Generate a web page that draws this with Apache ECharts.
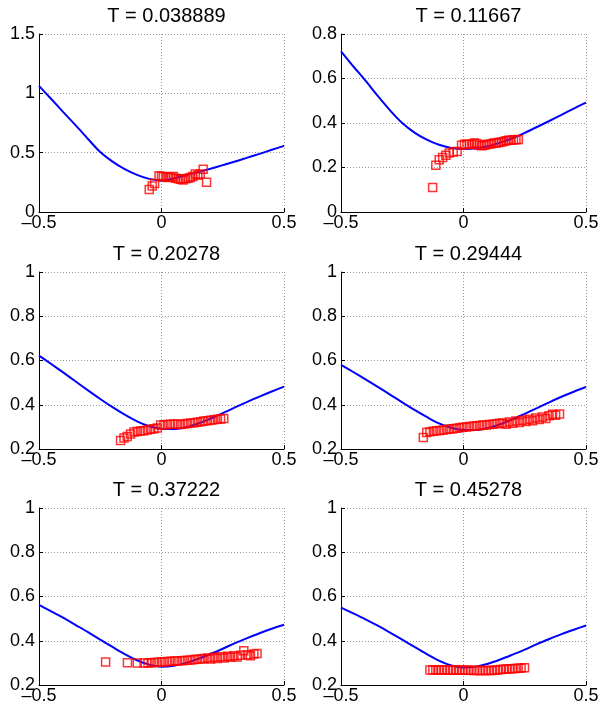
<!DOCTYPE html>
<html>
<head>
<meta charset="utf-8">
<script src="https://cdn.jsdelivr.net/npm/echarts@6/dist/echarts.min.js"></script>
<style>
html,body{margin:0;padding:0;background:#fff;}
#chart{width:602px;height:713px;}
</style>
</head>
<body>
<div id="chart"></div>
<script>
// ---- data ----
const titles = ['T = 0.038889','T = 0.11667','T = 0.20278','T = 0.29444','T = 0.37222','T = 0.45278'];
const xTicks = [-0.5, 0, 0.5];
const yMin = [0, 0, 0.2, 0.2, 0.2, 0.2];
const yMax = [1.5, 0.8, 1, 1, 1, 1];
const yStep = [0.5, 0.2, 0.2, 0.2, 0.2, 0.2];

const lineX = [-0.5,-0.45,-0.4,-0.35,-0.3,-0.25,-0.2,-0.15,-0.1,-0.05,0,0.05,0.1,0.15,0.2,0.25,0.3,0.35,0.4,0.45,0.5];
const lineY1 = [1.063,0.952,0.84,0.73,0.615,0.505,0.425,0.362,0.313,0.279,0.264,0.283,0.31,0.337,0.365,0.395,0.425,0.458,0.49,0.524,0.557];
const lineY2 = [0.722,0.655,0.59,0.522,0.457,0.40,0.357,0.325,0.302,0.288,0.283,0.286,0.296,0.312,0.332,0.356,0.382,0.409,0.437,0.465,0.492];
const lineY3 = [0.622,0.584,0.545,0.505,0.465,0.426,0.389,0.355,0.325,0.303,0.292,0.29,0.298,0.315,0.337,0.362,0.388,0.413,0.437,0.46,0.482];
const lineY4 = [0.58,0.548,0.515,0.481,0.446,0.411,0.377,0.345,0.316,0.296,0.286,0.286,0.295,0.312,0.334,0.359,0.385,0.411,0.436,0.459,0.48];
const lineY5 = [0.562,0.533,0.503,0.471,0.439,0.405,0.372,0.34,0.312,0.292,0.283,0.287,0.30,0.318,0.34,0.364,0.389,0.412,0.434,0.454,0.472];
const lineY6 = [0.55,0.524,0.497,0.468,0.437,0.405,0.372,0.34,0.31,0.288,0.279,0.283,0.296,0.315,0.337,0.36,0.385,0.408,0.43,0.45,0.469];

const ptsX1 = [-0.050,-0.038,-0.028,-0.010,0.000,0.008,0.018,0.028,0.038,0.048,0.058,0.068,0.078,0.088,0.098,0.108,0.118,0.128,0.138,0.148,0.158,0.170,0.184];
const ptsY1 = [0.19,0.22,0.24,0.305,0.30,0.30,0.295,0.29,0.295,0.30,0.285,0.28,0.275,0.27,0.28,0.285,0.29,0.30,0.32,0.31,0.32,0.36,0.25];

const ptsX2 = [-0.126,-0.113,-0.099,-0.085,-0.072,-0.058,-0.042,-0.026,-0.008,0.004,0.014,0.024,0.034,0.044,0.054,0.064,0.074,0.084,0.094,0.104,0.114,0.124,0.134,0.144,0.154,0.164,0.174,0.184,0.194,0.204,0.214,0.224];
const ptsY2 = [0.11,0.21,0.235,0.245,0.255,0.265,0.27,0.272,0.30,0.305,0.305,0.303,0.305,0.31,0.308,0.30,0.298,0.30,0.303,0.305,0.307,0.31,0.31,0.312,0.315,0.317,0.32,0.322,0.323,0.325,0.325,0.326];

const ptsX3 = [-0.167,-0.153,-0.140,-0.126,-0.112,-0.099,-0.085,-0.072,-0.058,-0.044,-0.031,-0.017,-0.003,0.010,0.024,0.037,0.051,0.065,0.078,0.092,0.105,0.119,0.133,0.146,0.160,0.173,0.187,0.201,0.214,0.228,0.241,0.254];
const ptsY3 = [0.238,0.25,0.257,0.268,0.277,0.279,0.281,0.283,0.286,0.289,0.292,0.295,0.309,0.31,0.311,0.312,0.313,0.312,0.311,0.313,0.315,0.317,0.319,0.321,0.323,0.326,0.328,0.33,0.332,0.334,0.336,0.338];

const ptsX4 = [-0.164,-0.150,-0.137,-0.123,-0.110,-0.096,-0.083,-0.069,-0.056,-0.042,-0.029,-0.015,-0.002,0.012,0.025,0.039,0.052,0.066,0.079,0.093,0.106,0.120,0.133,0.147,0.160,0.174,0.187,0.201,0.214,0.228,0.241,0.255,0.268,0.282,0.295,0.309,0.322,0.336,0.349,0.363,0.376,0.392];
const ptsY4 = [0.252,0.275,0.278,0.28,0.282,0.284,0.286,0.288,0.29,0.292,0.294,0.296,0.298,0.30,0.302,0.303,0.305,0.306,0.308,0.309,0.311,0.312,0.314,0.316,0.318,0.312,0.322,0.316,0.326,0.32,0.33,0.324,0.335,0.328,0.34,0.333,0.345,0.338,0.35,0.357,0.352,0.358];

const ptsX5 = [-0.228,-0.139,-0.099,-0.071,-0.055,-0.042,-0.028,-0.015,-0.001,0.012,0.026,0.039,0.053,0.066,0.080,0.093,0.107,0.120,0.134,0.147,0.161,0.174,0.188,0.201,0.215,0.228,0.242,0.255,0.269,0.282,0.296,0.309,0.323,0.336,0.350,0.363,0.377,0.390];
const ptsY5 = [0.304,0.301,0.299,0.299,0.300,0.301,0.302,0.303,0.304,0.305,0.306,0.307,0.308,0.309,0.31,0.311,0.312,0.313,0.315,0.316,0.318,0.32,0.322,0.318,0.325,0.32,0.328,0.322,0.33,0.325,0.332,0.327,0.335,0.355,0.337,0.332,0.34,0.342];

const ptsX6 = [-0.137,-0.125,-0.113,-0.101,-0.089,-0.077,-0.065,-0.053,-0.041,-0.029,-0.017,-0.005,0.007,0.019,0.031,0.043,0.055,0.067,0.079,0.091,0.103,0.115,0.127,0.139,0.151,0.163,0.175,0.187,0.199,0.211,0.223,0.235,0.249];
const ptsY6 = [0.268,0.268,0.268,0.268,0.268,0.268,0.268,0.268,0.268,0.268,0.268,0.267,0.267,0.267,0.267,0.266,0.266,0.266,0.265,0.265,0.265,0.266,0.267,0.268,0.27,0.271,0.272,0.273,0.274,0.275,0.276,0.277,0.278];

const lineYs = [lineY1,lineY2,lineY3,lineY4,lineY5,lineY6];
const ptsXs = [ptsX1,ptsX2,ptsX3,ptsX4,ptsX5,ptsX6];
const ptsYs = [ptsY1,ptsY2,ptsY3,ptsY4,ptsY5,ptsY6];

// ---- layout ----
const FONT = 'Liberation Sans, Arial, Helvetica, sans-serif';
const lefts = [39, 341];
const tops = [34, 272, 508];
const heights = [178, 177, 177];
const W = 245;
const titleTops = [1, 239, 475];

const grids = [], xAxes = [], yAxes = [], series = [], titleArr = [];
const fmt = v => { const r = Math.round(v*100)/100; return String(r).replace('-', '\u2013'); };
for (let i = 0; i < 6; i++) {
  const col = i % 2, row = Math.floor(i / 2);
  grids.push({left: lefts[col], top: tops[row], width: W, height: heights[row], containLabel: false});
  titleArr.push({text: titles[i], left: lefts[col] + W/2, top: titleTops[row], textAlign: 'center',
    textStyle: {fontFamily: FONT, fontSize: 20, fontWeight: 'normal', color: '#000'}});
  xAxes.push({type: 'value', gridIndex: i, min: -0.5, max: 0.5, interval: 0.5,
    axisLine: {show: true, onZero: false, lineStyle: {color: '#000', width: 1}},
    axisTick: {show: true, inside: true, length: 4, lineStyle: {color: '#000'}},
    axisLabel: {show: true, margin: 2, fontFamily: FONT, fontSize: 18, color: '#000', formatter: fmt},
    splitLine: {show: true, lineStyle: {color: '#999', type: [1, 2], width: 1}}});
  yAxes.push({type: 'value', gridIndex: i, min: yMin[i], max: yMax[i], interval: yStep[i],
    axisLine: {show: true, onZero: false, lineStyle: {color: '#000', width: 1}},
    axisTick: {show: true, inside: true, length: 4, lineStyle: {color: '#000'}},
    axisLabel: {show: true, margin: 4, fontFamily: FONT, fontSize: 18, color: '#000', formatter: fmt},
    splitLine: {show: true, lineStyle: {color: '#999', type: [1, 2], width: 1}}});
  series.push({type: 'line', xAxisIndex: i, yAxisIndex: i, smooth: 0.3, symbol: 'none',
    lineStyle: {color: '#0000ff', width: 2}, data: lineX.map((x, k) => [x, lineYs[i][k]]), z: 2});
  series.push({type: 'scatter', xAxisIndex: i, yAxisIndex: i, symbol: 'rect', symbolSize: 8,
    itemStyle: {color: 'rgba(0,0,0,0)', borderColor: '#ff0000', borderWidth: 1.5},
    data: ptsXs[i].map((x, k) => [x, ptsYs[i][k]]), z: 3});
}

const chart = echarts.init(document.getElementById('chart'), null, {renderer: 'canvas'});
chart.setOption({
  animation: false,
  backgroundColor: '#fff',
  title: titleArr,
  grid: grids,
  xAxis: xAxes,
  yAxis: yAxes,
  series: series
});
</script>
</body>
</html>
